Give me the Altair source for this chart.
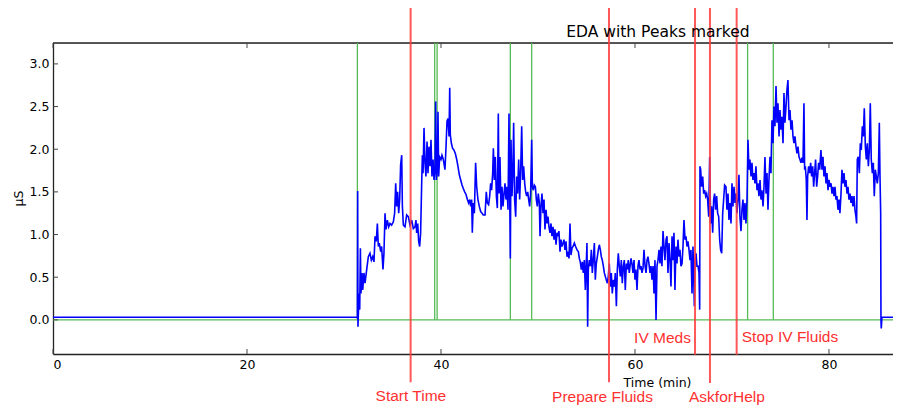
import altair as alt
import pandas as pd

# ---- EDA trace (time in minutes, conductance in µS) ----
seg_rest = [(0.0, 0.03), (31.34, 0.03)]
seg_a = [
    (31.38, 0.02), (31.41, 1.51), (31.44, -0.08), (31.55, 0.31), (31.62, 0.12), (31.69, 0.84),
    (31.75, 0.31), (31.86, 0.55), (31.93, 0.35), (32.06, 0.55), (32.17, 0.43), (32.34, 0.59),
    (32.51, 0.74), (32.68, 0.78), (32.82, 0.70), (32.96, 0.74), (33.09, 0.68), (33.20, 0.98),
    (33.33, 0.92), (33.44, 1.13), (33.54, 0.86), (33.64, 0.90), (33.78, 0.80), (33.88, 0.86),
    (34.02, 0.59), (34.12, 0.78), (34.23, 1.25), (34.33, 1.06), (34.47, 1.17), (34.61, 1.09),
    (34.74, 1.13), (34.91, 1.11), (35.09, 1.15), (35.22, 1.25), (35.33, 1.60), (35.43, 1.33),
    (35.53, 1.50), (35.64, 1.25), (35.74, 1.41), (35.84, 1.82), (35.95, 1.93), (36.02, 1.33),
    (36.12, 1.11), (36.29, 1.09), (36.46, 1.23), (36.63, 1.21), (36.81, 1.11), (36.98, 1.17),
    (37.15, 1.07), (37.32, 1.09), (37.42, 1.17), (37.49, 1.02), (37.60, 1.13), (37.70, 0.92),
    (37.80, 0.86), (37.90, 1.02), (38.01, 1.60), (38.08, 1.93), (38.15, 1.72), (38.25, 2.25),
    (38.35, 1.84), (38.45, 1.68), (38.56, 2.09), (38.66, 1.72), (38.76, 2.03), (38.87, 1.80),
    (38.97, 2.11), (39.07, 1.68), (39.18, 1.88), (39.28, 1.64), (39.38, 1.76), (39.45, 2.56),
    (39.52, 1.64), (39.62, 1.76), (39.69, 2.44), (39.76, 1.68), (39.86, 1.91), (40.00, 1.88),
    (40.10, 1.93), (40.24, 1.88),
]
seg_b = [
    (40.41, 1.76), (40.52, 2.03), (40.62, 2.33), (40.72, 2.36), (40.83, 2.15), (40.90, 2.72),
    (40.96, 2.17), (41.07, 2.07), (41.20, 2.01), (41.34, 1.99), (41.48, 1.95), (41.62, 1.88),
    (41.75, 1.80), (41.89, 1.70), (42.03, 1.64), (42.17, 1.58), (42.30, 1.54), (42.44, 1.50),
    (42.58, 1.47), (42.72, 1.41), (42.85, 1.37), (42.96, 1.41), (43.06, 1.33), (43.16, 1.41),
    (43.23, 1.02), (43.33, 1.37), (43.44, 1.25), (43.57, 1.84), (43.68, 1.56), (43.81, 1.41),
    (43.95, 1.33), (44.09, 1.27), (44.23, 1.25), (44.36, 1.23), (44.54, 1.23), (44.67, 1.50),
    (44.78, 1.37), (44.91, 1.35), (45.02, 1.45), (45.12, 1.60), (45.22, 1.52), (45.33, 1.72),
    (45.40, 2.01), (45.50, 1.64), (45.60, 1.91), (45.71, 1.45), (45.81, 1.31), (45.91, 2.42),
    (45.98, 1.48), (46.08, 1.91), (46.19, 1.29), (46.29, 1.56), (46.39, 1.33), (46.50, 1.48),
    (46.60, 1.60), (46.70, 1.41), (46.80, 1.56), (46.91, 1.29), (47.01, 2.42), (47.08, 1.52),
    (47.15, 0.72), (47.22, 2.11), (47.32, 1.45), (47.42, 1.76), (47.49, 2.31), (47.59, 1.41),
    (47.70, 1.21), (47.80, 1.68), (47.90, 1.48), (48.01, 1.88), (48.11, 1.41), (48.21, 1.72),
    (48.32, 2.27), (48.42, 1.64), (48.52, 1.80), (48.63, 1.60), (48.73, 1.50), (48.83, 1.45),
    (48.94, 1.50), (49.04, 1.41), (49.14, 1.33), (49.24, 1.48), (49.35, 2.11), (49.42, 1.56),
    (49.52, 1.52), (49.62, 1.58), (49.73, 1.56), (49.83, 1.41), (49.93, 1.33), (50.03, 1.48),
    (50.14, 1.37),
]
seg_c = [
    (50.21, 0.98), (50.31, 1.33), (50.41, 1.48), (50.52, 1.25), (50.62, 1.41), (50.72, 1.06),
    (50.83, 1.29), (50.93, 1.13), (51.03, 1.21), (51.13, 1.09), (51.24, 1.02), (51.34, 1.13),
    (51.44, 0.98), (51.55, 1.09), (51.65, 0.94), (51.75, 1.06), (51.86, 0.88), (51.96, 1.02),
    (52.06, 0.98), (52.16, 1.04), (52.27, 0.80), (52.37, 0.94), (52.47, 0.86), (52.58, 0.90),
    (52.68, 0.94), (52.78, 0.82), (52.89, 0.92), (52.99, 0.74), (53.09, 0.80), (53.20, 0.72),
    (53.30, 1.13), (53.40, 0.76), (53.51, 0.84), (53.61, 0.86), (53.75, 0.90), (53.88, 0.86),
    (54.02, 0.82), (54.16, 0.80), (54.26, 0.72), (54.36, 0.68), (54.47, 0.59), (54.57, 0.68),
    (54.67, 0.55), (54.78, 0.70), (54.88, 0.35), (54.98, 0.66), (55.05, 0.90), (55.12, -0.08),
    (55.19, 0.59), (55.29, 0.70), (55.40, 0.63), (55.50, 0.82), (55.60, 0.55), (55.70, 0.70),
    (55.81, 0.90), (55.91, 0.47), (56.01, 0.66), (56.12, 0.74), (56.22, 0.82), (56.32, 0.88),
    (56.43, 0.82), (56.53, 0.74), (56.63, 0.70), (56.74, 0.63), (56.84, 0.55), (56.94, 0.51),
    (57.04, 0.47), (57.15, 0.43), (57.25, 0.51), (57.35, 0.66), (57.46, 0.39), (57.56, 0.55),
    (57.66, 0.31), (57.77, 0.47), (57.87, 0.39), (57.97, 0.55), (58.08, 0.16), (58.18, 0.59),
    (58.28, 0.78), (58.38, 0.63), (58.49, 0.51), (58.59, 0.70), (58.69, 0.43), (58.80, 0.63),
    (58.90, 0.70), (59.00, 0.35), (59.11, 0.66), (59.21, 0.59), (59.31, 0.70), (59.41, 0.55),
]
seg_d = [
    (59.59, 0.72), (59.69, 0.66), (59.79, 0.55), (59.90, 0.70), (60.00, 0.47), (60.10, 0.59),
    (60.21, 0.35), (60.31, 0.63), (60.41, 0.70), (60.52, 0.59), (60.62, 0.63), (60.72, 0.55),
    (60.83, 0.61), (60.93, 0.82), (61.03, 0.64), (61.14, 0.55), (61.24, 0.70), (61.34, 0.74),
    (61.44, 0.66), (61.55, 0.55), (61.65, 0.63), (61.75, 0.47), (61.86, 0.63), (61.96, 0.31),
    (62.06, 0.70), (62.17, 0.00), (62.27, 0.63), (62.37, 0.70), (62.48, 0.82), (62.58, 0.66),
    (62.68, 0.86), (62.78, 0.63), (62.89, 1.04), (62.99, 0.86), (63.09, 0.70), (63.20, 0.94),
    (63.30, 0.98), (63.40, 0.55), (63.51, 0.90), (63.61, 0.70), (63.71, 0.39), (63.82, 0.98),
    (63.92, 0.70), (64.02, 1.02), (64.12, 0.35), (64.23, 0.86), (64.33, 0.66), (64.43, 0.94),
    (64.54, 0.74), (64.64, 0.82), (64.74, 0.63), (64.85, 0.66), (64.95, 0.86), (65.05, 1.17),
    (65.16, 0.94), (65.26, 0.98), (65.36, 0.86), (65.46, 0.92), (65.57, 0.82), (65.67, 0.70),
    (65.77, 0.82), (65.88, 0.31), (65.98, 0.86), (66.05, 0.55), (66.12, 0.16), (66.19, 0.70),
    (66.29, 0.78), (66.39, 0.63), (66.50, 0.63), (66.60, 0.55), (66.67, 0.12), (66.70, 1.80),
    (66.77, 1.76), (66.87, 1.56), (66.98, 1.68), (67.08, 1.48), (67.18, 1.52), (67.29, 1.45),
    (67.39, 1.48), (67.49, 1.41), (67.60, 1.21), (67.70, 1.91), (67.80, 1.13), (67.90, 1.33),
    (68.01, 1.02), (68.11, 1.41), (68.21, 1.48), (68.32, 1.29), (68.42, 1.45), (68.52, 1.25),
    (68.63, 1.21), (68.73, 0.94), (68.83, 0.82), (68.94, 0.78), (69.04, 1.25), (69.14, 1.41),
    (69.24, 1.58),
]
seg_e = [
    (69.38, 1.56), (69.48, 1.29), (69.59, 1.48), (69.69, 1.17), (69.79, 1.37), (69.90, 1.13),
    (70.00, 1.60), (70.10, 1.33), (70.21, 1.56), (70.31, 1.37), (70.41, 1.48), (70.51, 1.25),
    (70.62, 1.41), (70.72, 1.70), (70.82, 1.21), (70.93, 1.04), (71.03, 1.29), (71.13, 1.41),
    (71.24, 1.17), (71.34, 1.37), (71.44, 1.13), (71.55, 1.41), (71.65, 2.11), (71.75, 1.76),
    (71.85, 1.88), (71.96, 1.68), (72.06, 1.84), (72.16, 1.64), (72.27, 1.72), (72.37, 1.60),
    (72.47, 1.80), (72.58, 1.52), (72.68, 1.60), (72.78, 1.45), (72.89, 1.64), (72.99, 1.41),
    (73.09, 1.52), (73.20, 1.33), (73.30, 1.56), (73.40, 1.91), (73.51, 1.48), (73.61, 1.72),
    (73.71, 1.29), (73.81, 1.64), (73.92, 1.91), (74.02, 1.72), (74.12, 2.34), (74.23, 2.07),
    (74.33, 2.50), (74.43, 2.27), (74.54, 2.74), (74.64, 2.31), (74.74, 2.54), (74.85, 2.15),
    (74.95, 2.46), (75.05, 2.23), (75.15, 2.38), (75.26, 2.07), (75.36, 2.66), (75.46, 2.31),
    (75.57, 2.50), (75.67, 2.70), (75.77, 2.81), (75.88, 2.34), (75.98, 2.46), (76.08, 2.23),
    (76.19, 2.34), (76.29, 2.15), (76.39, 2.07), (76.49, 2.15), (76.60, 2.03), (76.70, 1.95),
    (76.80, 2.03), (76.91, 1.91), (77.01, 1.88), (77.11, 1.84), (77.22, 1.90), (77.32, 1.84),
    (77.42, 2.54), (77.49, 1.76), (77.56, 1.80), (77.66, 1.64), (77.73, 1.17), (77.80, 1.68),
    (77.90, 1.80), (78.01, 1.72), (78.11, 1.84), (78.21, 1.68), (78.32, 1.80), (78.42, 1.56),
    (78.52, 1.72), (78.62, 1.88), (78.73, 1.56), (78.83, 1.68), (78.93, 1.84), (79.04, 1.76),
]
seg_f = [
    (79.17, 1.99), (79.28, 1.76), (79.38, 1.91), (79.48, 1.68), (79.59, 1.80), (79.69, 1.60),
    (79.79, 1.72), (79.90, 1.52), (80.00, 1.64), (80.10, 1.56), (80.21, 1.60), (80.31, 1.48),
    (80.41, 1.56), (80.52, 1.45), (80.62, 1.56), (80.72, 1.41), (80.82, 1.45), (80.93, 1.29),
    (81.03, 1.41), (81.13, 1.25), (81.24, 1.48), (81.34, 1.76), (81.44, 1.60), (81.55, 1.72),
    (81.65, 1.56), (81.75, 1.64), (81.86, 1.48), (81.96, 1.56), (82.06, 1.41), (82.17, 1.48),
    (82.27, 1.37), (82.37, 1.45), (82.47, 1.33), (82.58, 1.45), (82.68, 1.29), (82.78, 1.21),
    (82.85, 1.13), (82.92, 1.88), (83.02, 1.91), (83.13, 1.72), (83.23, 2.07), (83.33, 1.99),
    (83.44, 2.27), (83.54, 2.15), (83.64, 2.48), (83.75, 2.03), (83.85, 1.88), (83.95, 2.07),
    (84.06, 1.80), (84.16, 1.99), (84.26, 2.54), (84.36, 1.88), (84.47, 1.72), (84.57, 1.84),
    (84.67, 1.45), (84.78, 1.76), (84.88, 1.68), (84.98, 1.60), (85.09, 1.72), (85.19, 2.31),
    (85.26, 1.68), (85.33, 1.25), (85.36, 0.00), (85.39, -0.10), (85.46, 0.03), (86.60, 0.03),
]

# ---- detected peaks (green) and annotated events (red) ----
peak_times = [31.38, 39.35, 39.60, 47.15, 49.35, 71.61, 74.26]
event_times = [36.87, 57.32, 66.19, 67.73, 70.48]
event_low = [-0.73, -0.73, -0.41, -0.74, -0.41]
event_high = [3.66, 3.66, 3.66, 3.66, 3.66]
event_labels = ["Start Time", "Prepare Fluids", "IV Meds", "AskforHelp", "Stop IV Fluids"]
label_x = [36.90, 56.65, 62.84, 69.48, 75.98]
label_y = [-0.887, -0.899, -0.211, -0.903, -0.199]

title_text = ["EDA with Peaks marked"]
title_x = [62.37]
title_y = [3.37]

x_ticks = [0, 20, 40, 60, 80]
y_ticks = [0.0, 0.5, 1.0, 1.5, 2.0, 2.5, 3.0]
X_DOMAIN = [0, 86.6]
Y_DOMAIN = [-0.4, 3.245]

points = seg_rest + seg_a + seg_b + seg_c + seg_d + seg_e + seg_f
eda = pd.DataFrame(points, columns=["t", "v"])
eda["i"] = range(len(eda))
peaks = pd.DataFrame({"t": peak_times})
events = pd.DataFrame({"t": event_times, "lo": event_low, "hi": event_high})
labels = pd.DataFrame({"t": label_x, "v": label_y, "txt": event_labels})
titles = pd.DataFrame({"t": title_x, "v": title_y, "txt": title_text})
xt = pd.DataFrame({"t": x_ticks})
yt = pd.DataFrame({"v": y_ticks})

xs = alt.Scale(domain=X_DOMAIN, nice=False, zero=False)
ys = alt.Scale(domain=Y_DOMAIN, nice=False, zero=False)

FONT = "DejaVu Sans"
FRAME = "#222"

x_axis = alt.Axis(
    values=x_ticks, format="d", title="Time (min)", grid=False, ticks=False,
    domain=True, domainColor=FRAME, domainWidth=1.3,
    labelFont=FONT, labelFontSize=12.5, labelColor="#000", labelPadding=4,
    titleFont=FONT, titleFontSize=12.5, titleFontWeight="normal", titleColor="#000",
    titleX=604, titleY=28, titleAlign="center", titleBaseline="middle",
)
y_axis = alt.Axis(
    values=y_ticks, format=".1f", title="μS", grid=False, ticks=False,
    domain=True, domainColor=FRAME, domainWidth=1.3,
    labelFont=FONT, labelFontSize=12.5, labelColor="#000", labelPadding=4,
    titleFont=FONT, titleFontSize=12.5, titleFontWeight="normal", titleColor="#000",
    titleX=-35, titleY=155, titleAngle=-90, titleAlign="center", titleBaseline="middle",
)

zero_line = alt.Chart(pd.DataFrame({"v": [0.0]})).mark_rule(
    color="#55bb55", strokeWidth=1.3
).encode(y=alt.Y("v:Q", scale=ys, axis=y_axis))

top_frame = alt.Chart(pd.DataFrame({"v": [Y_DOMAIN[1]]})).mark_rule(
    color=FRAME, strokeWidth=1.3
).encode(y=alt.Y("v:Q", scale=ys))

peak_lines = alt.Chart(peaks).mark_rule(color="#55bb55", strokeWidth=1.3).encode(
    x=alt.X("t:Q", scale=xs, axis=x_axis),
    y=alt.datum(0.0, scale=ys),
    y2=alt.value(0),
)

trace = alt.Chart(eda).mark_line(color="#0000ff", strokeWidth=1.6).encode(
    x=alt.X("t:Q", scale=xs),
    y=alt.Y("v:Q", scale=ys),
    order="i:Q",
)

event_lines = alt.Chart(events).mark_rule(color="#ff3b3b", strokeWidth=2, opacity=0.85).encode(
    x=alt.X("t:Q", scale=xs),
    y=alt.Y("lo:Q", scale=ys),
    y2="hi:Q",
)

event_text = alt.Chart(labels).mark_text(
    font="Liberation Sans", fontSize=15.5, color="#ff3030", align="center", baseline="middle"
).encode(
    x=alt.X("t:Q", scale=xs),
    y=alt.Y("v:Q", scale=ys),
    text="txt:N",
)

title_mark = alt.Chart(titles).mark_text(
    font=FONT, fontSize=15.5, color="#000", align="center", baseline="middle"
).encode(
    x=alt.X("t:Q", scale=xs),
    y=alt.Y("v:Q", scale=ys),
    text="txt:N",
)

tick_style = dict(color="#444", strokeWidth=1)
bottom_ticks = alt.Chart(xt).mark_rule(**tick_style).encode(
    x=alt.X("t:Q", scale=xs), y=alt.value(311), y2=alt.value(306)
)
top_ticks = alt.Chart(xt).mark_rule(**tick_style).encode(
    x=alt.X("t:Q", scale=xs), y=alt.value(0), y2=alt.value(5)
)
left_ticks = alt.Chart(yt).mark_rule(**tick_style).encode(
    y=alt.Y("v:Q", scale=ys), x=alt.value(0), x2=alt.value(5)
)

chart = alt.layer(
    zero_line, top_frame, peak_lines, trace, event_lines,
    bottom_ticks, top_ticks, left_ticks, title_mark, event_text
).properties(
    width=840,
    height=311,
    autosize=alt.AutoSizeParams(type="none"),
    padding={"left": 45, "top": 35, "right": 0, "bottom": 55},
).configure_view(
    strokeWidth=0
).configure(background="white")

chart.save("out.html", embed_options={"renderer": "svg", "actions": False})
